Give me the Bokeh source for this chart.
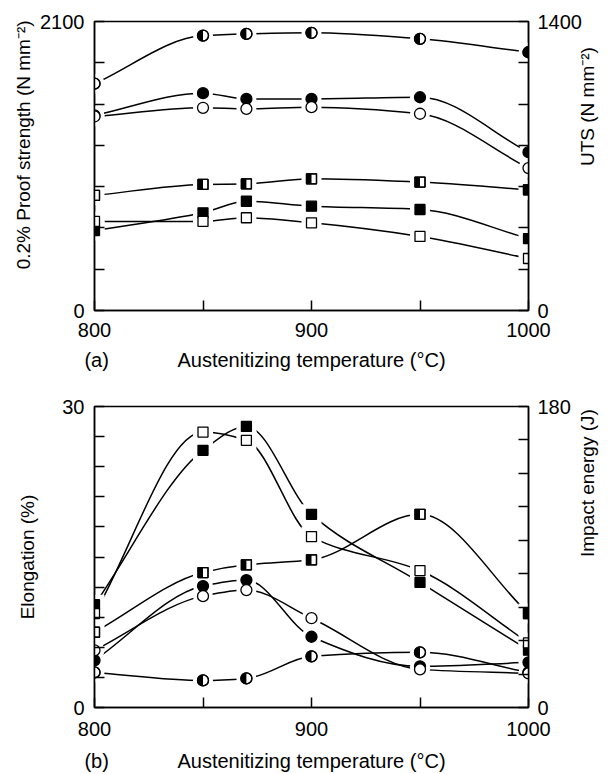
import numpy as np
from bokeh.plotting import figure
from bokeh.models import Range1d, LinearAxis, FixedTicker, ColumnDataSource
from bokeh.layouts import column
from bokeh.embed import file_html
from bokeh.resources import INLINE
from bokeh.transform import dodge

# ---------------- data ----------------
temps = [800, 850, 870, 900, 950, 1000]

# (a) UTS, N mm^-2 (right axis)
uts_half = [1099, 1332, 1340, 1345, 1316, 1251]
uts_filled = [945, 1053, 1025, 1025, 1033, 767]
uts_open = [940, 982, 977, 985, 953, 690]
# (a) 0.2% proof strength, N mm^-2 (left axis)
ps_half = [836, 916, 920, 957, 933, 877]
ps_filled = [581, 710, 794, 758, 734, 523]
ps_open = [647, 647, 674, 637, 538, 378]

# (b) elongation, % (left axis)
el_half = [3.5, 2.7, 2.9, 5.1, 5.5, 3.5]
el_filled = [4.7, 12.1, 12.7, 7.05, 4.1, 4.5]
el_open = [5.7, 11.1, 11.7, 8.9, 3.8, 3.4]
# (b) impact energy, J (right axis)
ie_half = [45.0, 80.7, 85.3, 88.3, 115.5, 56.2]
ie_filled = [61.5, 153.8, 168.1, 115.5, 74.8, 34.3]
ie_open = [56.2, 164.7, 159.8, 102.2, 81.9, 38.7]

x_ticks = [800, 850, 900, 950, 1000]
x_labels = {800: "800", 850: "", 900: "900", 950: "", 1000: "1000"}
x_title = "Austenitizing temperature (\u00b0C)"
NB = "\u00a0"

FONT = "Liberation Sans"
W = 612
FL, FR = 94, 528           # frame left / right pixel
PXU = (FR - FL) / 200.0    # pixels per degree


def curve(xs, ys):
    xs = np.asarray(xs, float)
    ys = np.asarray(ys, float)
    h = np.diff(xs)
    d = np.diff(ys) / h
    n = len(xs)
    m = np.zeros(n)
    m[0], m[-1] = d[0], d[-1]
    for i in range(1, n - 1):
        if d[i - 1] * d[i] <= 0:
            m[i] = 0.0
        else:
            w1 = 2 * h[i] + h[i - 1]
            w2 = h[i] + 2 * h[i - 1]
            m[i] = (w1 + w2) / (w1 / d[i - 1] + w2 / d[i])
    x0, x1, y0, y1 = xs[:-1], xs[1:], ys[:-1], ys[1:]
    t = h / 3.0
    return dict(x0=x0, y0=y0, x1=x1, y1=y1,
                cx0=x0 + t, cy0=y0 + m[:-1] * t,
                cx1=x1 - t, cy1=y1 - m[1:] * t)


def style_axis(ax, ticks, labels, standoff, size="20px"):
    ax.ticker = FixedTicker(ticks=ticks)
    ax.major_label_overrides = labels
    ax.major_tick_in = 10
    ax.major_tick_out = 0
    ax.minor_tick_in = 0
    ax.minor_tick_out = 0
    ax.axis_line_width = 1.5
    ax.axis_line_color = "black"
    ax.major_tick_line_width = 1.5
    ax.major_tick_line_color = "black"
    ax.major_label_text_font = FONT
    ax.major_label_text_font_size = size
    ax.major_label_text_color = "black"
    ax.major_label_standoff = standoff


def set_title(ax, text, standoff, orientation):
    ax.axis_label = text
    ax.axis_label_text_font = FONT
    ax.axis_label_text_font_size = "19px"
    ax.axis_label_text_font_style = "normal"
    ax.axis_label_text_color = "black"
    ax.axis_label_standoff = standoff
    ax.axis_label_orientation = orientation


def bottom_titles(p, tag, standoff):
    ax = LinearAxis()
    style_axis(ax, [801, 900], {801: tag, 900: x_title}, standoff, "20px")
    ax.axis_line_color = None
    ax.major_tick_line_color = None
    ax.major_tick_in = 0
    p.add_layout(ax, "below")


def make_panel(height, btop, bbot, yl, yr, lticks, llab, rticks, rlab, xstand):
    p = figure(width=W, height=height, x_range=Range1d(800, 1000),
               y_range=Range1d(0, yl), output_backend="svg",
               toolbar_location=None, min_border_left=FL,
               min_border_right=W - FR, min_border_top=btop,
               min_border_bottom=bbot)
    p.extra_y_ranges = {"r": Range1d(0, yr)}
    p.add_layout(LinearAxis(y_range_name="r"), "right")
    p.xgrid.visible = False
    p.ygrid.visible = False
    p.outline_line_color = "black"
    p.outline_line_width = 1.5
    p.background_fill_color = "white"
    p.border_fill_color = "white"
    style_axis(p.xaxis[0], x_ticks, x_labels, xstand)
    style_axis(p.yaxis[0], lticks, llab, 10)
    style_axis(p.yaxis[1], rticks, rlab, 9)
    return p


def draw(p, series):
    for ys, kind, fill, rng in series:
        p.bezier(source=ColumnDataSource(curve(temps, ys)),
                 x0="x0", y0="y0", x1="x1", y1="y1",
                 cx0="cx0", cy0="cy0", cx1="cx1", cy1="cy1",
                 line_color="black", line_width=1.5, y_range_name=rng)
    for ys, kind, fill, rng in series:
        src = ColumnDataSource(dict(x=temps, y=ys))
        p.scatter("x", "y", source=src,
                  marker="circle" if kind == "c" else "square",
                  size=20,
                  fill_color="white", line_color=None, y_range_name=rng)
    for ys, kind, fill, rng in series:
        src = ColumnDataSource(dict(x=temps, y=ys))
        mk = "circle" if kind == "c" else "square"
        sz = 11 if kind == "c" else 10
        p.scatter("x", "y", source=src, marker=mk, size=sz,
                  fill_color="black" if fill == "full" else "white",
                  line_color="black", line_width=1.3, y_range_name=rng)
        if fill == "half":
            if kind == "c":
                p.wedge("x", "y", source=src, radius=5.5, radius_units="screen",
                        start_angle=np.pi / 2, end_angle=3 * np.pi / 2,
                        fill_color="black", line_color=None, y_range_name=rng)
            else:
                p.rect(dodge("x", -2.5 / PXU, range=p.x_range), "y", source=src,
                       width=5, height=10, width_units="screen",
                       height_units="screen", fill_color="black",
                       line_color=None, y_range_name=rng)
            p.scatter("x", "y", source=src, marker=mk, size=sz,
                      fill_alpha=0, line_color="black", line_width=1.3,
                      y_range_name=rng)


# ---------------- panel (a) ----------------
H1 = 374
pa = make_panel(H1, 21, H1 - 310, 2100, 1400,
                list(range(0, 2101, 300)),
                {v: (str(v) if v in (0, 2100) else "") for v in range(0, 2101, 300)},
                list(range(0, 1401, 200)),
                {v: (str(v) if v in (0, 1400) else "") for v in range(0, 1401, 200)},
                12)
draw(pa, [
    (uts_half, "c", "half", "r"),
    (uts_filled, "c", "full", "r"),
    (uts_open, "c", "open", "r"),
    (ps_half, "s", "half", "default"),
    (ps_filled, "s", "full", "default"),
    (ps_open, "s", "open", "default"),
])
bottom_titles(pa, "(a)", 9)
set_title(pa.yaxis[0], NB * 8 + "0.2% Proof strength (N mm\u207b\u00b2)", 3, "parallel")
set_title(pa.yaxis[1], "UTS (N mm\u207b\u00b2)", 3, np.pi / 2)

# ---------------- panel (b) ----------------
H2 = 774 - H1
pb = make_panel(H2, 406 - H1, 66, 30, 180,
                list(range(0, 31, 3)),
                {v: (str(v) if v in (0, 30) else "") for v in range(0, 31, 3)},
                list(range(0, 181, 20)),
                {v: (str(v) if v in (0, 180) else "") for v in range(0, 181, 20)},
                14)
draw(pb, [
    (el_half, "c", "half", "default"),
    (el_filled, "c", "full", "default"),
    (el_open, "c", "open", "default"),
    (ie_half, "s", "half", "r"),
    (ie_filled, "s", "full", "r"),
    (ie_open, "s", "open", "r"),
])
bottom_titles(pb, "(b)", 11)
set_title(pb.yaxis[0], "Elongation (%)", 21, "parallel")
set_title(pb.yaxis[1], "Impact energy (J)", 14, np.pi / 2)

layout = column(pa, pb)
open("out.html", "w").write(file_html(layout, INLINE))
